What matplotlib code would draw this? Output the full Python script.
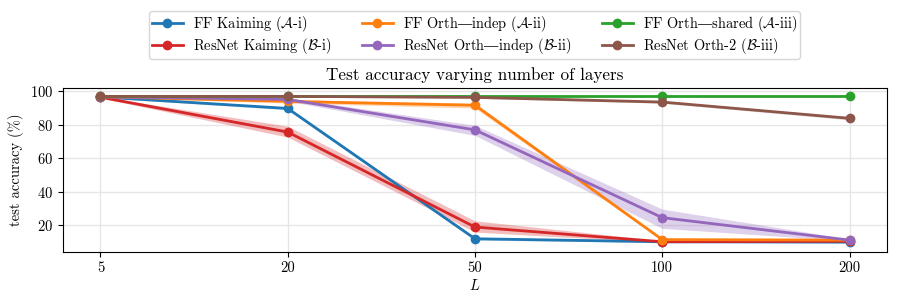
import numpy as np
import matplotlib
matplotlib.use("Agg")
import matplotlib.pyplot as plt

plt.rcParams["font.family"] = ["cmr10", "DejaVu Serif"]
plt.rcParams["mathtext.fontset"] = "cm"
plt.rcParams["axes.formatter.use_mathtext"] = True
plt.rcParams["axes.unicode_minus"] = False

FONTSIZE = 10.5

layers = ["5", "20", "50", "100", "200"]

ff_kaiming = [96.5, 89.6, 11.8, 10.0, 9.8]
ff_kaiming_lo = [96.0, 88.8, 11.0, 9.6, 9.4]
ff_kaiming_hi = [97.0, 90.4, 12.6, 10.4, 10.2]

resnet_kaiming = [96.3, 75.5, 18.8, 10.0, 10.3]
resnet_kaiming_lo = [95.8, 72.5, 15.8, 9.5, 9.8]
resnet_kaiming_hi = [96.8, 79.0, 22.5, 10.6, 10.8]

ff_orth_indep = [96.6, 93.8, 91.5, 11.3, 11.0]
ff_orth_indep_lo = [96.2, 92.8, 89.8, 10.8, 10.5]
ff_orth_indep_hi = [97.0, 94.8, 92.8, 11.8, 11.5]

resnet_orth_indep = [96.5, 95.0, 76.8, 24.4, 11.0]
resnet_orth_indep_lo = [96.0, 94.0, 73.5, 18.0, 10.5]
resnet_orth_indep_hi = [97.0, 96.0, 79.5, 29.5, 11.6]

ff_orth_shared = [97.2, 97.2, 97.2, 97.2, 97.2]
ff_orth_shared_lo = [96.9, 96.9, 96.9, 96.9, 96.9]
ff_orth_shared_hi = [97.5, 97.5, 97.5, 97.5, 97.5]

resnet_orth2 = [96.8, 96.8, 96.2, 93.4, 83.7]
resnet_orth2_lo = [96.4, 96.3, 95.7, 92.7, 82.8]
resnet_orth2_hi = [97.2, 97.3, 96.7, 94.1, 84.6]

series = [
    ("FF Kaiming ($\\mathcal{A}$-i)", "tab:blue", ff_kaiming, ff_kaiming_lo, ff_kaiming_hi),
    ("ResNet Kaiming ($\\mathcal{B}$-i)", "tab:red", resnet_kaiming, resnet_kaiming_lo, resnet_kaiming_hi),
    ("FF Orth$\u2014$indep ($\\mathcal{A}$-ii)", "tab:orange", ff_orth_indep, ff_orth_indep_lo, ff_orth_indep_hi),
    ("ResNet Orth$\u2014$indep ($\\mathcal{B}$-ii)", "tab:purple", resnet_orth_indep, resnet_orth_indep_lo, resnet_orth_indep_hi),
    ("FF Orth$\u2014$shared ($\\mathcal{A}$-iii)", "tab:green", ff_orth_shared, ff_orth_shared_lo, ff_orth_shared_hi),
    ("ResNet Orth-2 ($\\mathcal{B}$-iii)", "tab:brown", resnet_orth2, resnet_orth2_lo, resnet_orth2_hi),
]

fig, ax = plt.subplots(figsize=(8.97, 3.05), dpi=100)
fig.subplots_adjust(left=63 / 897, right=887 / 897, bottom=1 - 252 / 305, top=1 - 88 / 305)

xs = np.arange(len(layers))
for label, color, vals, lo, hi in series:
    ax.fill_between(xs, lo, hi, color=color, alpha=0.3, linewidth=0)
    ax.plot(xs, vals, "-o", color=color, lw=2, ms=6, label=label)

ax.set_xticks(xs, layers)
ax.set_yticks([20, 40, 60, 80, 100])
ax.set_xlim(-0.2, 4.2)
ax.set_ylim(3.9, 101.8)
ax.grid(True, color="#e6e6e6", linewidth=1)
ax.set_axisbelow(True)
ax.tick_params(labelsize=FONTSIZE)
ax.set_xlabel("$L$", fontsize=FONTSIZE, labelpad=2)
ax.set_ylabel("test accuracy (%)", fontsize=FONTSIZE)
ax.set_title("Test accuracy varying number of layers", fontsize=12.3, pad=6)

fig.legend(loc="upper center", bbox_to_anchor=(474.5 / 897, 1 - 11 / 305), ncol=3,
           fontsize=10.4, columnspacing=2.1, handlelength=2.15, handletextpad=0.7,
           labelspacing=0.12, borderaxespad=0, borderpad=0.2)

fig.savefig("out.png", dpi=100)
